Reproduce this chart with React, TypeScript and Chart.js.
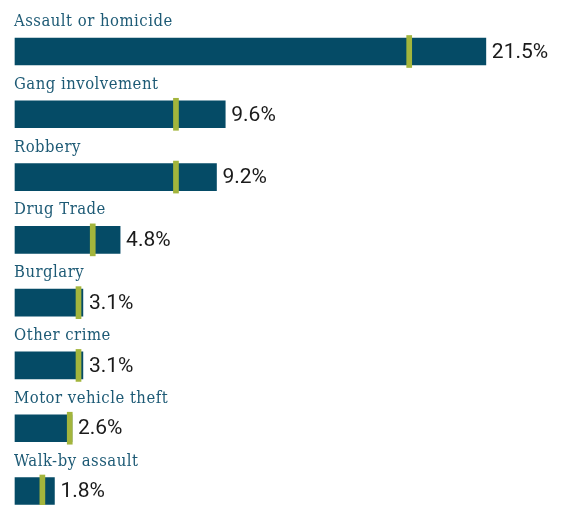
import React, { useEffect, useRef } from "react";
import { Chart, registerables } from "chart.js";

Chart.register(...registerables);

const categories = [
  "Assault or homicide",
  "Gang involvement",
  "Robbery",
  "Drug Trade",
  "Burglary",
  "Other crime",
  "Motor vehicle theft",
  "Walk-by assault",
];
const values = [21.5, 9.6, 9.2, 4.8, 3.1, 3.1, 2.6, 1.8];
const markers = [18.0, 7.35, 7.35, 3.55, 2.9, 2.9, 2.5, 1.25];
const valueLabels = values.map((v) => v.toFixed(1) + "%");

const BAR_COLOR = "#054b66";
const MARK_COLOR = "#a3b53c";
const LABEL_COLOR = "#1d5a75";

const labelPlugin = {
  id: "rowLabels",
  afterDatasetsDraw(chart: any) {
    const ctx = chart.ctx;
    const meta = chart.getDatasetMeta(0);
    ctx.save();
    meta.data.forEach((bar: any, i: number) => {
      const top = bar.y - 13.5;
      ctx.font = "16.5px 'DejaVu Serif Condensed'";
      (ctx as any).letterSpacing = "0.5px";
      ctx.fillStyle = LABEL_COLOR;
      ctx.textAlign = "left";
      ctx.textBaseline = "alphabetic";
      ctx.fillText(categories[i], chart.chartArea.left - 1, top - 12);
      (ctx as any).letterSpacing = "0px";
      ctx.font = "21px Roboto";
      ctx.fillStyle = "#1a1a1a";
      ctx.textBaseline = "middle";
      ctx.fillText(valueLabels[i], bar.x + 6, bar.y + 1);
    });
    ctx.restore();
  },
};

export default function App() {
  const ref = useRef<HTMLCanvasElement>(null);
  useEffect(() => {
    if (!ref.current) return;
    const chart = new Chart(ref.current, {
      type: "bar",
      data: {
        labels: categories,
        datasets: [
          {
            data: values,
            backgroundColor: BAR_COLOR,
            barThickness: 27,
            grouped: false,
            order: 2,
            clip: false as any,
          },
          {
            data: markers.map((m) => [m - 0.115, m + 0.115]) as any,
            backgroundColor: MARK_COLOR,
            barThickness: 32,
            grouped: false,
            order: 1,
            clip: false as any,
          },
        ],
      },
      options: {
        indexAxis: "y",
        animation: false,
        responsive: false,
        maintainAspectRatio: false,
        layout: { padding: { left: 15, right: 1.5, top: 51.5, bottom: 14 } },
        plugins: {
          legend: { display: false },
          tooltip: { enabled: false },
        },
        scales: {
          x: { display: false, min: 0, max: 25 },
          y: { display: false, offset: false, grid: { offset: false } },
        },
      },
      plugins: [labelPlugin],
    });
    return () => chart.destroy();
  }, []);
  return (
    <div style={{ position: "absolute", left: 0, top: 0, width: 564, height: 505, background: "#fff" }}>
      <canvas ref={ref} width={564} height={505} style={{ display: "block" }} />
    </div>
  );
}
